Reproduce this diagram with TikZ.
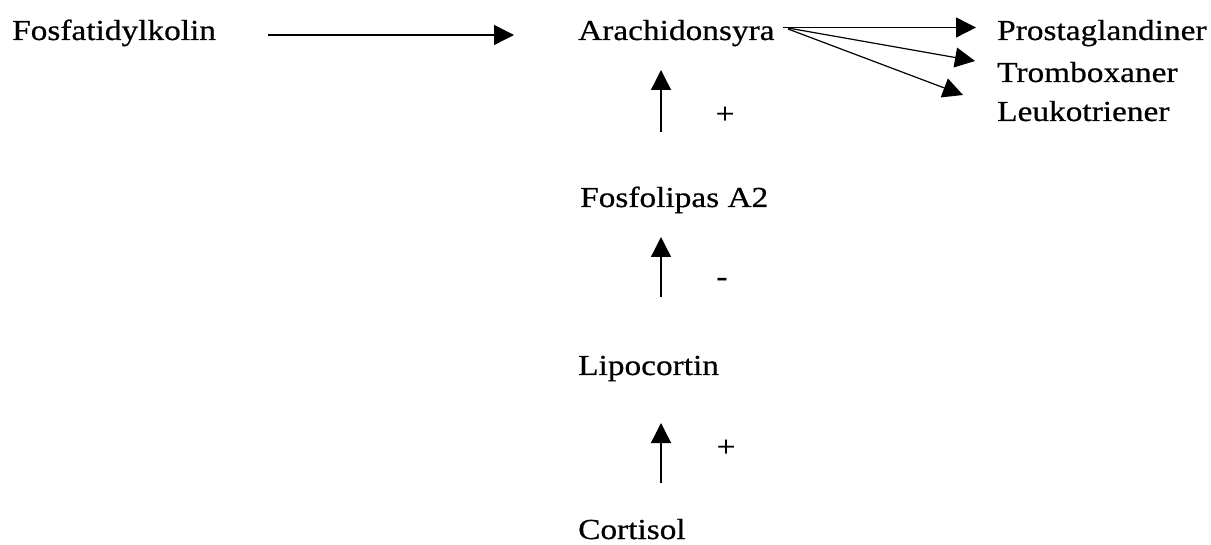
\documentclass[tikz,border=0pt]{standalone}
\usepackage{fontspec}
\setmainfont[FakeStretch=1.15, FakeBold=0.6]{Liberation Serif}
\usetikzlibrary{arrows.meta}

\begin{document}
\begin{tikzpicture}[x=1pt, y=-1pt,
    term/.style={anchor=base west, inner sep=0pt, font=\fontsize{29}{35}\selectfont},
    sign/.style={inner sep=0pt, font=\fontsize{29}{35}\selectfont},
    pil/.style={line width=1.4pt, -{Triangle[length=20pt, width=20pt]}}]
          \useasboundingbox (0,0) rectangle (1211,545);
          % names
          \node[term] (fos) at (12,40) {Fosfatidylkolin};
          \node[term] (ara) at (578,40) {Arachidonsyra};
          \node[term] (prost) at (997,40) {Prostaglandiner};
          \node[term] (trom) at (997,82) {Tromboxaner};
          \node[term] (leuk) at (997,121) {Leukotriener};
          \node[term] (fosfo) at (580,207) {Fosfolipas A2};
          \node[term] (lipo) at (578,375) {Lipocortin};
          \node[term] (cort) at (578,539) {Cortisol};
          % signs
          \node[sign] (pos1) at (725,115) {+};
          \node[sign] (neg) at (722,282) {-};
          \node[sign] (pos2) at (726,448) {+};
          % arrows
          \draw[pil] ([shift={(256,-5)}]fos.base west) -- ([shift={(-64,-5)}]ara.base west);
          \draw[pil] ([shift={(205,-12.5)}]ara.base west) -- ([shift={(-21,-12.5)}]prost.base west);
          \draw[pil, line width=1.2pt] ([shift={(210,-12)}]ara.base west) -- ([shift={(-22,-21)}]trom.base west);
          \draw[pil, line width=1.2pt] ([shift={(210,-11)}]ara.base west) -- ([shift={(-34,-26)}]leuk.base west);
          \draw[pil] ([shift={(81,-75)}]fosfo.base west) -- ([shift={(83,30)}]ara.base west);
          \draw[pil] ([shift={(83,-78)}]lipo.base west) -- ([shift={(81,30)}]fosfo.base west);
          \draw[pil] ([shift={(83,-56)}]cort.base west) -- ([shift={(83,48)}]lipo.base west);
        \end{tikzpicture}
\end{document}
